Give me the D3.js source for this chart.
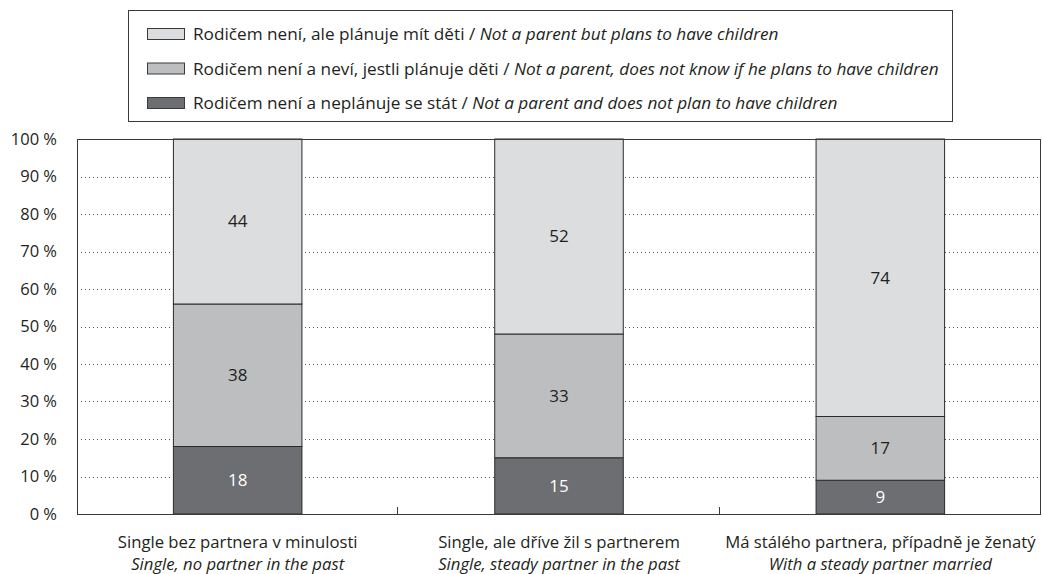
<!DOCTYPE html>
<html lang="cs">
<head>
<meta charset="utf-8">
<title>Rodičovství podle partnerského stavu</title>
<script src="https://cdn.jsdelivr.net/npm/d3@7"></script>
<style>
  body { margin: 0; background: #fff; }
  svg { font-family: "Open Sans", "Noto Sans", sans-serif; fill: #231f20; }
</style>
</head>
<body>
<script>
// categories (two-line labels)
var categoriesCz = ["Single bez partnera v minulosti", "Single, ale dříve žil s partnerem", "Má stálého partnera, případně je ženatý"];
var categoriesEn = ["Single, no partner in the past", "Single, steady partner in the past", "With a steady partner married"];

// series, bottom to top
var seriesCz = ["Rodičem není a neplánuje se stát", "Rodičem není a neví, jestli plánuje děti", "Rodičem není, ale plánuje mít děti"];
var seriesEn = ["Not a parent and does not plan to have children", "Not a parent, does not know if he plans to have children", "Not a parent but plans to have children"];
var notPlanning = [18, 15, 9];
var dontKnow = [38, 33, 17];
var planning = [44, 52, 74];

var yTicks = [0, 10, 20, 30, 40, 50, 60, 70, 80, 90, 100];
var colors = ["#6d6e71", "#bcbec0", "#dcdddf"];

var W = 1042, H = 574;
var margin = {top: 139, right: 1, bottom: 60, left: 77};
var iw = W - margin.left - margin.right, ih = H - margin.top - margin.bottom;

var svg = d3.select("body").append("svg").attr("width", W).attr("height", H);

var x = d3.scaleBand().domain(d3.range(categoriesCz.length)).range([margin.left, margin.left + iw]).padding(0);
var y = d3.scaleLinear().domain([0, 100]).range([margin.top + ih, margin.top]);
var barW = x.bandwidth() * 0.4;

// dotted gridlines
svg.append("g").selectAll("line").data(yTicks.filter(function(d){ return d > 0 && d < 100; }))
  .enter().append("line")
  .attr("x1", margin.left).attr("x2", margin.left + iw)
  .attr("y1", function(d){ return Math.round(y(d)) + 0.5; })
  .attr("y2", function(d){ return Math.round(y(d)) + 0.5; })
  .attr("stroke", "#555").attr("stroke-width", 1).attr("stroke-dasharray", "1,3");

// stacked bars
var rows = categoriesCz.map(function(c, i){ return {i: i, a: notPlanning[i], b: dontKnow[i], c: planning[i]}; });
var stack = d3.stack().keys(["a", "b", "c"])(rows);

var layers = svg.append("g").selectAll("g").data(stack).enter().append("g")
  .attr("fill", function(d, k){ return colors[k]; });

layers.selectAll("rect").data(function(d){ return d; }).enter().append("rect")
  .attr("x", function(d){ return x(d.data.i) + (x.bandwidth() - barW) / 2; })
  .attr("y", function(d){ return y(d[1]); })
  .attr("width", barW)
  .attr("height", function(d){ return y(d[0]) - y(d[1]); })
  .attr("stroke", "#2b2b2b").attr("stroke-width", 1);

layers.each(function(layer, k){
  d3.select(this).selectAll("text").data(layer).enter().append("text")
    .attr("x", function(d){ return x(d.data.i) + x.bandwidth() / 2; })
    .attr("y", function(d){ return (y(d[0]) + y(d[1])) / 2; })
    .attr("dy", "0.35em")
    .attr("text-anchor", "middle")
    .attr("font-size", 17)
    .attr("fill", k === 0 ? "#fff" : "#231f20")
    .text(function(d){ return d[1] - d[0]; });
});

// plot frame
svg.append("rect")
  .attr("x", margin.left + 0.5).attr("y", margin.top + 0.5)
  .attr("width", iw - 1).attr("height", ih)
  .attr("fill", "none").attr("stroke", "#3a3a3a").attr("stroke-width", 1);

// y axis labels
svg.append("g").selectAll("text").data(yTicks).enter().append("text")
  .attr("x", 57).attr("y", function(d){ return y(d); }).attr("dy", "0.35em")
  .attr("text-anchor", "end").attr("font-size", 16.5)
  .text(function(d){ return d + " %"; });

// category boundary ticks
svg.append("g").selectAll("line").data(d3.range(1, categoriesCz.length + 1)).enter().append("line")
  .attr("x1", function(d){ return Math.round(x(d - 1) + x.bandwidth()) - 0.5; })
  .attr("x2", function(d){ return Math.round(x(d - 1) + x.bandwidth()) - 0.5; })
  .attr("y1", margin.top + ih).attr("y2", margin.top + ih - 7)
  .attr("stroke", "#3a3a3a");

// category labels
var cat = svg.append("g").selectAll("g").data(d3.range(categoriesCz.length)).enter().append("g");
cat.append("text")
  .attr("x", function(i){ return x(i) + x.bandwidth() / 2; }).attr("y", 548)
  .attr("text-anchor", "middle").attr("font-size", 16.7)
  .text(function(i){ return categoriesCz[i]; });
cat.append("text")
  .attr("x", function(i){ return x(i) + x.bandwidth() / 2; }).attr("y", 570)
  .attr("text-anchor", "middle").attr("font-size", 16.7).attr("font-style", "italic")
  .text(function(i){ return categoriesEn[i]; });

// legend
var legend = svg.append("g");
legend.append("rect").attr("x", 128.5).attr("y", 10.5).attr("width", 824).attr("height", 111)
  .attr("fill", "none").attr("stroke", "#3a3a3a");

var order = [2, 1, 0];
var item = legend.selectAll("g").data(order).enter().append("g")
  .attr("transform", function(k, r){ return "translate(147," + (34 + r * 34.5) + ")"; });
item.append("rect").attr("x", 0.5).attr("y", -5.5).attr("width", 37).attr("height", 11)
  .attr("fill", function(k){ return colors[k]; }).attr("stroke", "#3a3a3a");
var lt = item.append("text").attr("x", 46).attr("dy", "0.35em").attr("font-size", 17.2);
lt.append("tspan").text(function(k){ return seriesCz[k] + " / "; });
lt.append("tspan").attr("font-style", "italic").text(function(k){ return seriesEn[k]; });
</script>
</body>
</html>
